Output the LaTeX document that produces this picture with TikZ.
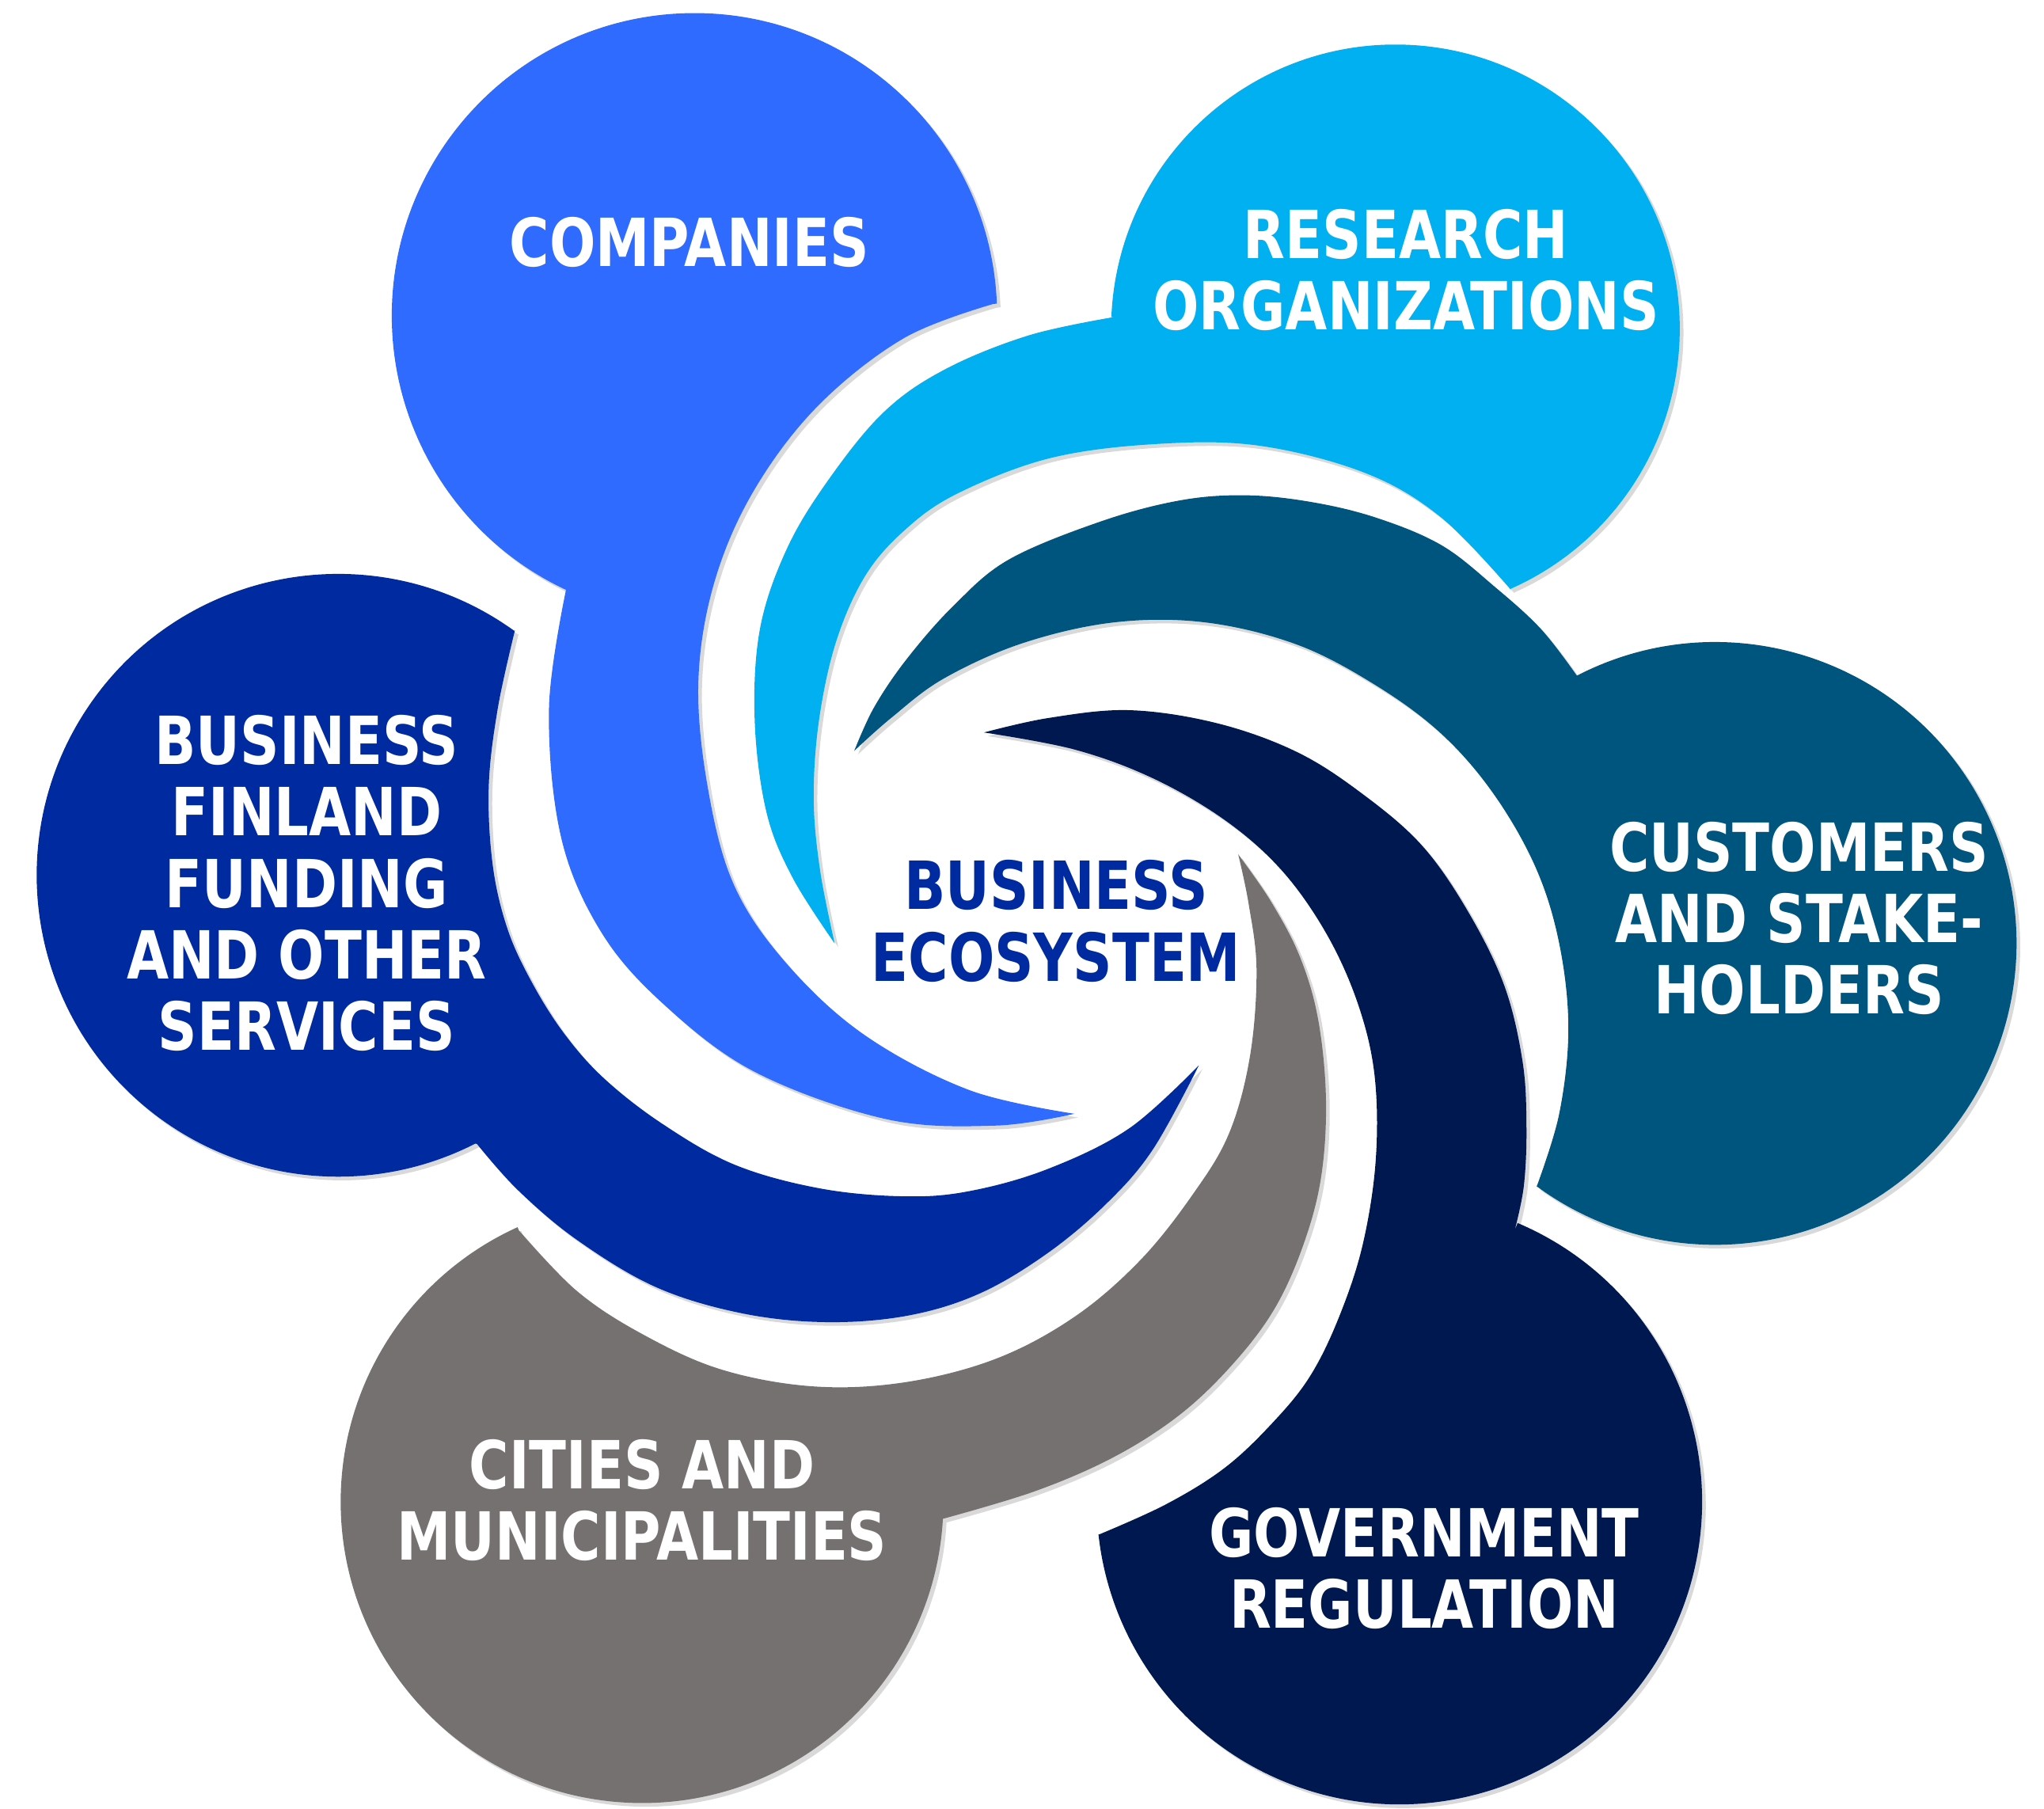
\documentclass[tikz,border=0pt]{standalone}
\usepackage{fontspec}
\newfontfamily\swirlfont{DejaVu Sans}[FakeStretch=0.82]
\usetikzlibrary{shadows}
\definecolor{companiesblue}{HTML}{2F6BFF}
\definecolor{researchblue}{HTML}{00B0F0}
\definecolor{customersteal}{HTML}{00557F}
\definecolor{governmentnavy}{HTML}{001850}
\definecolor{citiesgrey}{HTML}{767171}
\definecolor{finlandblue}{HTML}{002AA0}

\begin{document}
\begin{tikzpicture}[x=0.01cm, y=-0.01cm,
  swirl/.style={drop shadow={shadow xshift=0.8pt, shadow yshift=-0.8pt, opacity=.3}},
  edge/.style={smooth, tension=.6},
  lbl/.style={text=white, align=center, font=\swirlfont\bfseries\fontsize{14.4}{15.5}\selectfont}]
        \useasboundingbox (0,0) rectangle (1560,1380);
        % companies
        \fill[companiesblue, swirl] (530,241) ++(-2.3:231) arc[start angle=-2.3, end angle=-244.9, radius=231]
          -- plot[edge] coordinates {(432,450) (419,540) (428,638) (458,710) (505,765) (576,818) (676,854) (760,859) (820,850)}
          -- plot[edge] coordinates {(820,850) (740,832) (660,790) (600,735) (560,675) (540,600) (533,520) (545,445) (575,375) (624,310) (690,258) (758,232)}
          -- cycle;
        % research organizations
        \fill[researchblue, swirl] (1065,251) ++(-177.6:217) arc[start angle=-177.6, end angle=66.1, radius=217]
          -- plot[edge] coordinates {(1153,450) (1100,395) (1042,361) (960,340) (880,339) (800,350) (730,377) (690,405) (660,440) (638,490) (625,550) (621,610) (626,665) (637,720)}
          -- plot[edge] coordinates {(637,720) (605,670) (585,620) (576,550) (580,480) (600,420) (631,368) (674,315) (721,282) (785,256) (850,242)}
          -- cycle;
        % customers
        \fill[customersteal, swirl] (1309,720) ++(-117.3:230) arc[start angle=-117.3, end angle=126.4, radius=230]
          -- plot[edge] coordinates {(1173,905) (1190,850) (1197,785) (1190,720) (1172,662) (1140,606) (1100,560) (1050,523) (990,492) (920,475) (850,475) (780,491) (720,518) (680,548) (652,573)}
          -- plot[edge] coordinates {(652,573) (667,540) (692,503) (728,462) (770,427) (840,398) (900,382) (950,378) (1000,383) (1050,395) (1100,416) (1141,448) (1176,480) (1203,515)}
          -- cycle;
        % government
        \fill[governmentnavy, swirl] (1068,1146) ++(-67:231) arc[start angle=-67, end angle=173.8, radius=231]
          -- plot[edge] coordinates {(839,1171) (890,1148) (935,1120) (972,1085) (1000,1050) (1022,1005) (1040,950) (1050,885) (1049,820) (1036,765) (1012,712) (978,664) (935,626) (880,594) (820,572) (751,559)}
          -- plot[edge] coordinates {(751,559) (800,548) (862,542) (929,552) (990,574) (1040,606) (1085,645) (1120,695) (1148,752) (1162,810) (1165,860) (1163,905) (1156,939)}
          -- cycle;
        % cities
        \fill[citiesgrey, swirl] (490,1146) ++(3.2:230) arc[start angle=3.2, end angle=245.6, radius=230]
          -- plot[edge] coordinates {(396,939) (440,985) (490,1018) (550,1045) (620,1058) (690,1055) (760,1037) (820,1005) (870,962) (910,912) (938,865) (954,806) (959,740) (953,690) (945,652)}
          -- plot[edge] coordinates {(945,652) (970,688) (992,730) (1006,778) (1012,840) (1008,900) (994,952) (972,1000) (940,1042) (900,1080) (850,1112) (790,1138) (720,1159)}
          -- cycle;
        % business finland
        \fill[finlandblue, swirl] (258,668) ++(-54.2:230) arc[start angle=-54.2, end angle=-297.1, radius=230]
          -- plot[edge] coordinates {(364,873) (395,908) (440,946) (500,982) (565,1002) (630,1009) (693,1004) (748,987) (800,956) (845,918) (880,877) (915,813)}
          -- plot[edge] coordinates {(915,813) (862,861) (800,892) (740,909) (690,913) (626,907) (561,889) (506,858) (461,823) (430,788) (405,748) (387,708) (376,660) (373,600) (380,540) (393,481)}
          -- cycle;
        \node[lbl] (companies) at (526,185) {COMPANIES};
        \node[lbl] (research) at (1073,206) {RESEARCH\\ORGANIZATIONS};
        \node[lbl] (finland) at (234,674) {BUSINESS\\FINLAND\\FUNDING\\AND OTHER\\SERVICES};
        \node[lbl] (customers) at (1373,701) {CUSTOMERS\\AND STAKE-\\HOLDERS};
        \node[lbl] (government) at (1087,1197) {GOVERNMENT\\REGULATION};
        \node[lbl] (cities) at (490,1145) {CITIES AND\\MUNICIPALITIES};
        \node[lbl, text=finlandblue] (ecosystem) at (806,703) {BUSINESS\\ECOSYSTEM};
\end{tikzpicture}
\end{document}
